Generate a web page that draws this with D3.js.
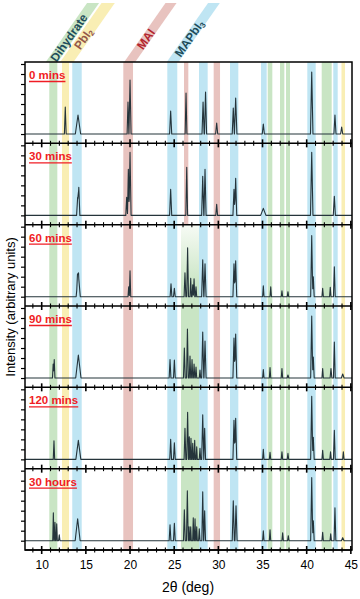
<!DOCTYPE html>
<html>
<head>
<meta charset="utf-8">
<script src="https://cdn.jsdelivr.net/npm/d3@7"></script>
<style>
body { margin: 0; background: #fff; }
svg { display: block; font-family: "Liberation Sans", Arial, sans-serif; }
</style>
</head>
<body>
<main></main>
<script>
// Panel names (time after exposure), top to bottom
const panelLabels = ["0 mins", "30 mins", "60 mins", "90 mins", "120 mins", "30 hours"];

// Peaks: [2theta, intensity (tick units), half width (deg)]
const peaks0 = [
    [12.67, 2.7, 0.1], [14.11, 1.9, 0.3], [19.77, 3.2, 0.1], [20.0, 5.4, 0.12],
    [24.6, 2.3, 0.12], [26.34, 4.1, 0.1], [28.27, 3.2, 0.12], [28.55, 4.2, 0.12],
    [29.81, 1.1, 0.12], [31.69, 2.6, 0.12], [31.96, 3.6, 0.14], [35.09, 1.0, 0.12],
    [40.57, 6.2, 0.14], [43.2, 1.9, 0.12], [43.96, 0.7, 0.12]
];
const peaks30 = [
    [14.07, 1.8, 0.12], [14.2, 2.8, 0.12], [19.62, 1.8, 0.1], [19.81, 4.6, 0.1],
    [20.0, 6.3, 0.12], [24.6, 2.6, 0.12], [26.42, 4.8, 0.1], [28.23, 3.9, 0.12],
    [28.49, 4.6, 0.12], [29.81, 1.1, 0.1], [31.77, 2.6, 0.12], [31.96, 3.7, 0.12],
    [35.09, 0.7, 0.3], [40.57, 6.3, 0.14], [43.13, 1.9, 0.12]
];
const peaks60 = [
    [14.05, 1.4, 0.15], [14.17, 2.1, 0.2], [19.85, 1.0, 0.08], [20.0, 2.6, 0.08],
    [24.64, 1.3, 0.1], [25.02, 0.85, 0.1], [26.22, 2.4, 0.1], [26.52, 4.9, 0.1],
    [26.87, 1.85, 0.08], [27.1, 1.2, 0.08], [27.25, 1.8, 0.08], [27.47, 1.0, 0.08],
    [28.23, 3.7, 0.12], [28.49, 3.3, 0.12], [31.77, 3.3, 0.12], [31.96, 3.6, 0.12],
    [35.09, 1.1, 0.08], [35.93, 1.0, 0.08], [37.2, 0.6, 0.08], [37.88, 0.5, 0.08],
    [40.57, 6.1, 0.12], [40.75, 2.0, 0.1], [41.81, 0.85, 0.08], [42.67, 0.95, 0.08],
    [43.13, 3.0, 0.1]
];
const peaks90 = [
    [11.3, 1.4, 0.08], [11.42, 1.85, 0.08], [14.15, 2.3, 0.3], [24.53, 1.85, 0.1],
    [25.02, 1.8, 0.1], [26.15, 3.0, 0.1], [26.5, 4.9, 0.1], [26.79, 2.2, 0.08],
    [27.02, 1.85, 0.08], [27.25, 1.4, 0.08], [27.47, 1.1, 0.08], [27.92, 0.8, 0.08],
    [28.23, 4.6, 0.12], [28.49, 3.7, 0.12], [31.77, 4.0, 0.12], [31.96, 4.4, 0.12],
    [35.09, 0.85, 0.08], [35.85, 1.05, 0.08], [37.2, 0.95, 0.08], [37.88, 0.3, 0.1],
    [40.57, 6.2, 0.12], [40.75, 2.1, 0.1], [41.81, 0.95, 0.08], [42.75, 0.95, 0.1],
    [43.13, 3.6, 0.1], [44.08, 0.4, 0.15]
];
const peaks120 = [
    [11.39, 1.85, 0.08], [14.15, 1.9, 0.28], [24.6, 2.0, 0.1], [25.02, 1.65, 0.1],
    [26.22, 3.1, 0.1], [26.52, 4.7, 0.1], [26.71, 2.25, 0.07], [26.9, 2.1, 0.07],
    [27.1, 1.6, 0.07], [27.32, 1.9, 0.07], [27.55, 1.25, 0.07], [27.92, 1.1, 0.08],
    [28.23, 4.45, 0.12], [28.45, 3.1, 0.1], [31.77, 3.9, 0.12], [31.96, 4.1, 0.12],
    [35.09, 1.0, 0.08], [35.85, 0.7, 0.08], [37.2, 0.75, 0.08], [37.88, 0.6, 0.08],
    [40.57, 6.3, 0.12], [40.75, 2.2, 0.1], [41.81, 0.9, 0.08], [42.7, 0.75, 0.08],
    [43.13, 2.9, 0.1], [44.15, 0.75, 0.08]
];
const peaks30h = [
    [11.32, 2.8, 0.07], [11.5, 1.85, 0.07], [11.7, 1.7, 0.07], [11.99, 0.6, 0.08],
    [14.07, 2.2, 0.28], [24.53, 1.6, 0.1], [25.02, 1.75, 0.1], [26.15, 3.1, 0.1],
    [26.49, 5.0, 0.1], [26.68, 1.4, 0.07], [26.87, 1.4, 0.07], [27.16, 2.3, 0.07],
    [27.36, 2.2, 0.07], [27.55, 1.4, 0.07], [27.84, 1.2, 0.08], [28.23, 4.9, 0.1],
    [28.45, 3.0, 0.1], [31.69, 4.0, 0.12], [32.0, 3.5, 0.12], [35.09, 1.0, 0.08],
    [35.85, 1.1, 0.08], [37.28, 0.8, 0.08], [37.92, 0.5, 0.08], [40.57, 6.3, 0.12],
    [40.75, 2.0, 0.1], [41.81, 0.85, 0.08], [42.72, 0.7, 0.08], [43.2, 3.3, 0.1],
    [44.08, 0.3, 0.15]
];
const patterns = [peaks0, peaks30, peaks60, peaks90, peaks120, peaks30h];

// Reference bands: 2theta range, phase, first and last panel covered
const bandStart = [10.86, 12.3, 13.46, 19.24, 24.22, 26.11, 25.77, 27.81, 29.47, 31.32, 34.83, 35.59, 36.98, 37.66, 40.07, 41.7, 43.01, 43.94];
const bandEnd   = [11.77, 13.09, 14.53, 20.34, 25.35, 26.6, 27.81, 28.79, 30.19, 32.26, 35.47, 36.11, 37.47, 38.11, 41.02, 42.83, 43.51, 44.34];
const bandPhase = ["Dihydrate", "PbI2", "MAPbI3", "MAI", "MAPbI3", "MAI", "Dihydrate", "MAPbI3", "MAI", "MAPbI3", "MAPbI3", "Dihydrate", "Dihydrate", "Dihydrate", "MAPbI3", "Dihydrate", "MAPbI3", "PbI2"];
const bandFirst = [0, 0, 0, 0, 0, 0, 2, 0, 0, 0, 0, 0, 0, 0, 0, 0, 0, 0];
const bandLast  = [5, 5, 5, 5, 5, 1, 5, 5, 5, 5, 5, 5, 5, 5, 5, 5, 5, 5];

// Slanted legend ribbons above the plot
const ribbonPhase = ["Dihydrate", "PbI2", "MAI", "MAPbI3"];
const ribbonStart = [10.46, 12.1, 19.34, 24.16];
const ribbonEnd   = [11.82, 13.6, 20.59, 25.49];

const xTickLabels = [10, 15, 20, 25, 30, 35, 40, 45];
const intensityTicks = [0, 1, 2, 3, 4, 5, 6, 7];

const phaseColor = {
    Dihydrate: "#c9e5c4",
    PbI2: "#f9eeb4",
    MAI: "#e8c3bf",
    MAPbI3: "#bfe5f3"
};
const phaseText = {
    Dihydrate: "#1d4c5a",
    PbI2: "#94574a",
    MAI: "#b3252e",
    MAPbI3: "#1d4c5a"
};

const width = 360, height = 599;
const plotLeft = 25, plotRight = 352, plotTop = 62, plotBottom = 550;

const svg = d3.select("main").append("svg")
    .attr("width", width)
    .attr("height", height);

const x = d3.scaleLinear().domain([8.11, 45.13]).range([plotLeft, plotRight]);
const panel = d3.scaleBand().domain(panelLabels).range([plotTop, plotBottom]);
const bw = panel.bandwidth();
const yFor = label => d3.scaleLinear().domain([-0.93, 7.2])
    .range([panel(label) + bw, panel(label)]);

// gradient for the new dihydrate region at 60 mins
const defs = svg.append("defs");
const grad = defs.append("linearGradient")
    .attr("id", "fadeGreen").attr("x1", 0).attr("y1", 0).attr("x2", 0).attr("y2", 1);
grad.append("stop").attr("offset", "0%").attr("stop-color", "#f7fbf5");
grad.append("stop").attr("offset", "75%").attr("stop-color", phaseColor.Dihydrate);

// Ribbons with phase names
const ang = 55 * Math.PI / 180;
const dx = (plotTop - 3) / Math.tan(ang);
const ux = Math.cos(ang), uy = -Math.sin(ang);
const ribbonOffset = [2, 17, 17, 8];
ribbonPhase.forEach((ph, i) => {
    const a = x(ribbonStart[i]), b = x(ribbonEnd[i]);
    svg.append("polygon")
        .attr("points", [[a, plotTop], [b, plotTop], [b + dx, 3], [a + dx, 3]].map(p => p.join(",")).join(" "))
        .attr("fill", phaseColor[ph]);
});
ribbonPhase.forEach((ph, i) => {
    const cx = (x(ribbonStart[i]) + x(ribbonEnd[i])) / 2;
    const d = ribbonOffset[i];
    const t = svg.append("text")
        .attr("transform", `translate(${cx + d * ux},${plotTop + d * uy}) rotate(-55)`)
        .attr("dy", "0.36em")
        .attr("font-size", 12)
        .attr("font-weight", "bold")
        .attr("fill", phaseText[ph]);
    const m = ph.match(/^(.*?)(\d)$/);
    if (m) {
        t.append("tspan").text(m[1]);
        t.append("tspan").text(m[2]).attr("font-size", 8).attr("dy", "0.25em");
    } else {
        t.text(ph);
    }
});

// Bands inside the plot
bandStart.forEach((s, i) => {
    const y0 = panel(panelLabels[bandFirst[i]]);
    const y1 = panel(panelLabels[bandLast[i]]) + bw;
    if (bandFirst[i] === 2) {
        svg.append("rect")
            .attr("x", x(s)).attr("width", x(bandEnd[i]) - x(s))
            .attr("y", y0).attr("height", bw)
            .attr("fill", "url(#fadeGreen)");
        svg.append("rect")
            .attr("x", x(s)).attr("width", x(bandEnd[i]) - x(s))
            .attr("y", y0 + bw).attr("height", y1 - y0 - bw)
            .attr("fill", phaseColor[bandPhase[i]]);
    } else {
        svg.append("rect")
            .attr("x", x(s)).attr("width", x(bandEnd[i]) - x(s))
            .attr("y", y0).attr("height", y1 - y0)
            .attr("fill", phaseColor[bandPhase[i]]);
    }
});

// Patterns: piecewise-linear peak profiles
function profile(peaks) {
    let xs = [x.domain()[0], x.domain()[1]];
    peaks.forEach(([p, h, w]) => xs.push(p - w, p, p + w));
    xs = Array.from(new Set(xs)).sort((a, b) => a - b);
    return xs.map(t => {
        let v = 0;
        peaks.forEach(([p, h, w]) => { v += Math.max(0, h * (1 - Math.abs(t - p) / w)); });
        return [t, v];
    });
}

panelLabels.forEach((label, i) => {
    const y = yFor(label);
    const line = d3.line().x(d => x(d[0])).y(d => y(d[1]));
    svg.append("path")
        .datum(profile(patterns[i]))
        .attr("fill", "none")
        .attr("stroke", "#25343b")
        .attr("stroke-width", 1.1)
        .attr("stroke-linejoin", "round")
        .attr("d", line);

    // intensity ticks on the left
    svg.append("g")
        .attr("transform", `translate(${plotLeft},0)`)
        .call(d3.axisLeft(y).tickValues(intensityTicks).tickSize(4).tickFormat(""))
        .call(g => g.select(".domain").remove())
        .selectAll("line").attr("stroke", "#000").attr("stroke-width", 1.2);

    // panel label
    const tx = svg.append("text")
        .attr("x", 29).attr("y", panel(label) + 17)
        .attr("font-size", 11.5).attr("font-weight", "bold")
        .attr("fill", "#f01c24")
        .text(label);
    const len = tx.node().getComputedTextLength();
    svg.append("line")
        .attr("x1", 29).attr("x2", 29 + len)
        .attr("y1", panel(label) + 19.5).attr("y2", panel(label) + 19.5)
        .attr("stroke", "#f01c24").attr("stroke-width", 1.3);
});

// Frame and separators
svg.append("rect")
    .attr("x", plotLeft).attr("y", plotTop)
    .attr("width", plotRight - plotLeft).attr("height", plotBottom - plotTop)
    .attr("fill", "none").attr("stroke", "#000").attr("stroke-width", 1.5);

const xMinor = d3.range(9, 46);
panelLabels.forEach(label => {
    const yb = panel(label) + bw;
    svg.append("line")
        .attr("x1", plotLeft).attr("x2", plotRight).attr("y1", yb).attr("y2", yb)
        .attr("stroke", "#000").attr("stroke-width", 1.5);
    svg.append("g").selectAll("line")
        .data(xMinor)
        .join("line")
        .attr("x1", d => x(d)).attr("x2", d => x(d))
        .attr("y1", d => yb - (d % 5 === 0 ? 4 : 2.5))
        .attr("y2", d => yb + (d % 5 === 0 ? 4 : 2.5))
        .attr("stroke", "#000")
        .attr("stroke-width", d => d % 5 === 0 ? 1.6 : 1.1);
});

// x tick labels
svg.append("g")
    .attr("transform", `translate(0,${plotBottom})`)
    .call(d3.axisBottom(x).tickValues(xTickLabels).tickSize(0).tickPadding(10))
    .call(g => g.select(".domain").remove())
    .selectAll("text")
    .attr("font-size", 12)
    .attr("font-family", "Liberation Sans, Arial, sans-serif")
    .attr("fill", "#000");

// axis titles
svg.append("text")
    .attr("x", 188).attr("y", 592)
    .attr("text-anchor", "middle")
    .attr("font-size", 14)
    .text("2θ (deg)");

svg.append("text")
    .attr("transform", "translate(15,307) rotate(-90)")
    .attr("text-anchor", "middle")
    .attr("font-size", 13)
    .text("Intensity (arbitrary units)");
</script>
</body>
</html>
